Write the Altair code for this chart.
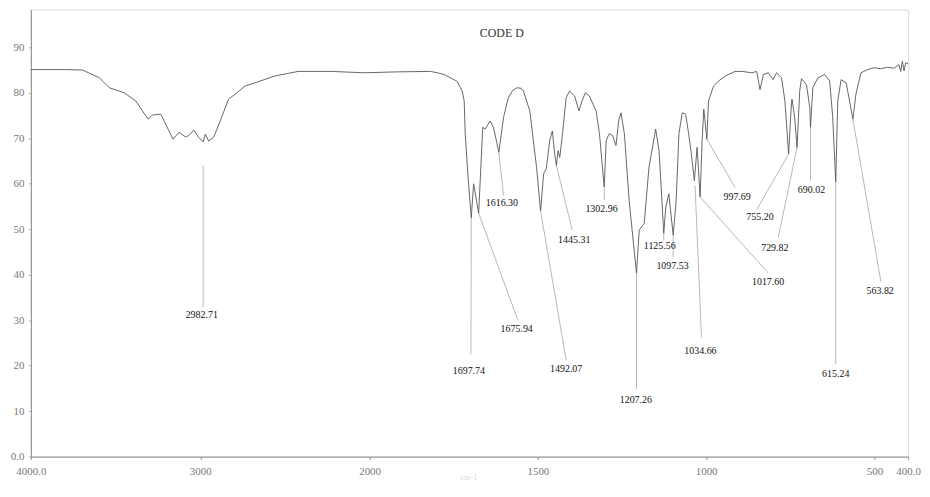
import altair as alt
import pandas as pd

# ---- spectrum (wavenumber cm-1, %T) ----
wavenumber = [4000, 3800, 3695, 3595, 3537, 3449, 3380, 3341, 3308, 3283, 3233, 3204, 3161, 3126,
              3087, 3067, 3038, 3009, 2983, 2970, 2950, 2921, 2882, 2833, 2794, 2735, 2676, 2559,
              2422, 2229, 2031, 1917, 1819, 1799, 1778, 1749, 1740, 1730, 1725, 1719, 1716, 1708,
              1698, 1691, 1676, 1664, 1657, 1642, 1632, 1622, 1616, 1602, 1588, 1575, 1563, 1550,
              1543, 1524, 1504, 1492, 1483, 1475, 1465, 1457, 1450, 1445, 1440, 1435, 1427, 1416,
              1406, 1391, 1378, 1369, 1359, 1347, 1327, 1317, 1303, 1297, 1288, 1278, 1268, 1260,
              1253, 1243, 1229, 1207, 1199, 1184, 1170, 1150, 1140, 1126, 1120, 1111, 1098, 1089,
              1081, 1071, 1061, 1052, 1044, 1035, 1027, 1018, 1012, 1007, 998, 993, 978, 963,
              943, 914, 894, 864, 850, 840, 830, 815, 801, 791, 776, 766, 755, 748, 745, 737,
              730, 722, 717, 702, 692, 690, 683, 668, 648, 633, 624, 615, 609, 599, 584, 574,
              564, 555, 540, 520, 501, 481, 461, 442, 427, 422, 417, 412, 407, 400]
transmittance = [85.1, 85.1, 85.0, 83.3, 81.1, 80.0, 78.2, 76.0, 74.2, 75.1, 75.3, 73.1, 69.8, 71.3,
                 70.3, 70.6, 71.8, 70.2, 69.2, 70.9, 69.4, 70.2, 73.8, 78.6, 79.7, 81.5, 82.2, 83.7,
                 84.7, 84.7, 84.4, 84.6, 84.7, 84.4, 84.0, 82.9, 82.5, 81.1, 80.4, 78.2, 71.0, 62.0,
                 52.5, 60.0, 53.5, 72.4, 72.0, 73.8, 72.4, 69.0, 66.9, 74.6, 78.9, 80.5, 81.1, 81.0,
                 80.4, 76.0, 63.6, 54.0, 62.2, 63.3, 69.5, 71.6, 66.5, 64.0, 67.3, 65.8, 70.9, 78.9,
                 80.4, 79.3, 76.0, 78.2, 80.0, 79.3, 76.0, 71.0, 59.3, 69.5, 71.0, 70.6, 68.4, 73.8,
                 75.6, 71.0, 56.4, 40.3, 49.8, 51.3, 63.6, 72.0, 67.3, 49.1, 54.9, 57.8, 48.7, 56.4,
                 71.0, 75.6, 75.3, 71.0, 66.5, 60.7, 68.0, 57.1, 69.5, 76.4, 69.8, 78.2, 81.5, 82.6,
                 83.7, 84.7, 84.7, 84.4, 84.7, 80.7, 84.0, 84.4, 82.9, 84.4, 83.3, 78.2, 66.5, 76.0, 78.6, 74.6,
                 68.0, 80.4, 83.1, 81.8, 76.7, 72.4, 81.1, 83.3, 84.0, 82.6, 74.6, 60.4, 78.2, 82.9, 82.2, 78.2,
                 74.2, 79.7, 84.4, 85.1, 85.5, 85.3, 85.6, 85.4, 86.2, 84.7, 86.9, 84.8, 86.6, 86.4]

# ---- peak labels ----
peak_labels = ["2982.71", "1697.74", "1675.94", "1616.30", "1492.07", "1445.31", "1302.96",
               "1207.26", "1125.56", "1097.53", "1034.66", "1017.60", "997.69", "755.20",
               "729.82", "690.02", "615.24", "563.82"]
peak_wn = [2983, 1698, 1676, 1616, 1492, 1445, 1303, 1207, 1126, 1098, 1033, 1018, 998, 755,
           730, 690, 615, 564]
peak_t = [64.0, 52.5, 53.5, 66.9, 54.0, 64.0, 59.3, 40.3, 49.1, 48.7, 59.6, 57.1, 69.8, 66.5,
          68.0, 72.4, 60.4, 74.2]

# ---- annotation layout (leader line ends and label anchors) ----
lead_end_wn = [2983, 1699, 1560, 1602, 1416, 1398, 1303, 1207, 1126, 1098, 1014, 816, 914, 849,
               786, 690, 615, 481]
lead_end_t = [32.8, 22.5, 30.1, 57.4, 21.2, 49.8, 56.4, 14.9, 47.5, 43.9, 26.2, 40.4, 59.2, 54.4,
              48.1, 60.7, 20.3, 38.5]
text_wn = [2991, 1705, 1563, 1607, 1416, 1392, 1311, 1209, 1138, 1100, 1017, 816, 908, 840,
           796, 687, 615, 483]
text_t = [31.2, 18.8, 28.0, 55.8, 19.2, 47.6, 54.5, 12.5, 46.3, 41.9, 23.2, 38.4, 57.0, 52.6,
          45.9, 58.7, 18.1, 36.4]

x_ticks = [4000, 3000, 2000, 1500, 1000, 500, 400]
y_ticks = [0, 10, 20, 30, 40, 50, 60, 70, 80, 90]

spec = pd.DataFrame({"wn": wavenumber, "t": transmittance})
ann = pd.DataFrame({"label": peak_labels, "wn": peak_wn, "t": peak_t,
                    "ewn": lead_end_wn, "et": lead_end_t, "twn": text_wn, "tt": text_t})

W, H = 883, 450
SERIF = "Liberation Serif"

xscale = alt.Scale(domain=[4000, 2000, 400], range=[0, 341, W], nice=False, zero=False)
yscale = alt.Scale(domain=[0, 98.3], nice=False, zero=False)

x_axis = alt.Axis(values=x_ticks, title=None, grid=False, tickSize=3, labelPadding=6,
                  labelExpr="datum.value == 4000 ? '4000.0' : datum.value == 400 ? '400.0' : '' + datum.value",
                  labelFont=SERIF, labelFontSize=11, labelColor="#777", domainColor="#888",
                  tickColor="#999", labelOverlap=False, labelFlush=False)
y_axis = alt.Axis(values=y_ticks, title=None, grid=False, tickSize=2, labelPadding=5,
                  labelExpr="datum.value == 0 ? '0.0' : '' + datum.value",
                  labelFont=SERIF, labelFontSize=11, labelColor="#777", domainColor="#888",
                  tickColor="#999", labelOverlap=False, labelFlush=False)

line = alt.Chart(spec).mark_line(color="#555", strokeWidth=0.9).encode(
    x=alt.X("wn:Q", scale=xscale, axis=x_axis, sort=None),
    y=alt.Y("t:Q", scale=yscale, axis=y_axis),
    order=alt.Order("idx:Q"),
).transform_window(idx="row_number()")

leaders = alt.Chart(ann).mark_rule(color="#999", strokeWidth=0.7).encode(
    x=alt.X("wn:Q", scale=xscale), x2="ewn:Q",
    y=alt.Y("t:Q", scale=yscale), y2="et:Q",
)

labels = alt.Chart(ann).mark_text(font=SERIF, fontSize=10, color="#111", align="center",
                                  baseline="middle").encode(
    x=alt.X("twn:Q", scale=xscale), y=alt.Y("tt:Q", scale=yscale), text="label:N"
)

title = alt.Chart(pd.DataFrame({"s": ["CODE D"]})).mark_text(
    font=SERIF, fontSize=12, color="#333", align="center", baseline="middle"
).encode(x=alt.value(474), y=alt.value(24), text="s:N")

unit = alt.Chart(pd.DataFrame({"s": ["cm-1"]})).mark_text(
    font=SERIF, fontSize=8, color="#d8d8d8", align="center", baseline="middle"
).encode(x=alt.value(441), y=alt.value(472), text="s:N")

chart = alt.layer(line, leaders, labels, title, unit).properties(
    width=W, height=H,
    padding={"left": 23, "top": 0, "right": 14, "bottom": 28},
    autosize=alt.AutoSizeParams(type="none"),
).configure_view(stroke=None).configure(background="white")

chart.save("out.html", embed_options={"renderer": "svg", "actions": False})
